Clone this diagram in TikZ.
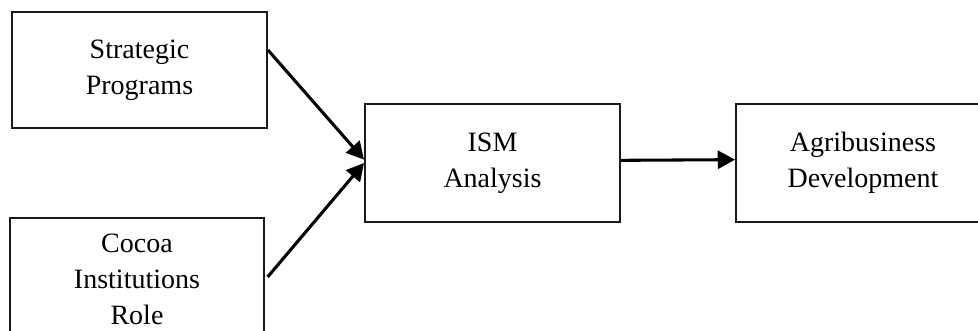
\documentclass[tikz,border=0pt]{standalone}
\usepackage{fontspec}
\setmainfont{Liberation Serif}
\usetikzlibrary{arrows.meta}
\tikzset{
  box/.style={draw=black!90, line width=1.4pt, fill=white, align=center,
    inner sep=0pt, font=\fontsize{21}{27}\selectfont},
  conn/.style={line width=2.3pt, -{Triangle[length=13pt,width=13.5pt]}}
}
\begin{document}
\begin{tikzpicture}[x=0.75pt,y=-0.75pt]
\useasboundingbox (0,0) rectangle (978,331);
\node[box, minimum width=191.25pt, minimum height=87pt] (s) at (139.5,70) {Strategic\\Programs};
\node[box, minimum width=190.5pt, minimum height=91.5pt] (c) at (137,279) {Cocoa\\Institutions\\Role};
\node[box, minimum width=191.25pt, minimum height=88.5pt] (i) at (492.5,163) {ISM\\Analysis};
\node[box, minimum width=190.5pt, minimum height=88.5pt] (a) at (863,163) {Agribusiness\\Development};
\draw[conn] ([yshift=15pt]s.east) -- ([yshift=2.5pt]i.west);
\draw[conn] ([xshift=2pt,yshift=1.5pt]c.east) -- ([yshift=0pt]i.west);
\draw[conn] ([yshift=2pt]i.east) -- ([yshift=2.5pt]a.west);
\end{tikzpicture}
\end{document}
